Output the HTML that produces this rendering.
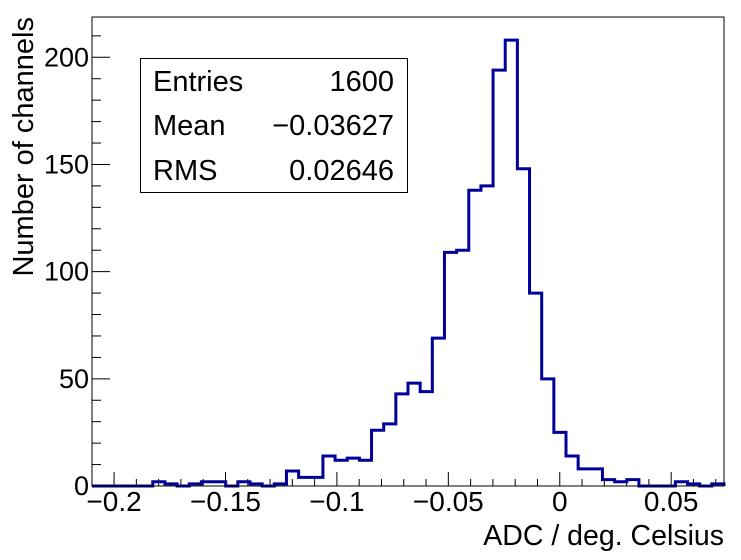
<!DOCTYPE html>
<html><head><meta charset="utf-8"><style>
html,body{margin:0;padding:0;background:#fff;}
svg{display:block;font-family:"Liberation Sans",sans-serif;}
</style></head><body>
<svg id="chart" width="741" height="560" viewBox="0 0 741 560" xmlns="http://www.w3.org/2000/svg">
<rect x="0" y="0" width="741" height="560" fill="#fff"/>
<g id="ticks"></g>
<path id="hist" fill="none" stroke="#000099" stroke-width="3"/>
<rect x="92" y="17" width="632" height="469" fill="none" stroke="#000" stroke-width="1"/>
<g>
<rect x="140.5" y="58.5" width="267" height="134" fill="#fff" stroke="#000" stroke-width="1"/>
<text x="153" y="91" font-size="29">Entries</text><text x="394" y="91" font-size="29" text-anchor="end">1600</text>
<text x="153" y="135" font-size="29">Mean</text><text x="394" y="135" font-size="29" text-anchor="end">−0.03627</text>
<text x="153" y="180" font-size="29">RMS</text><text x="394" y="180" font-size="29" text-anchor="end">0.02646</text>
</g>
<text x="724" y="545" font-size="28.5" text-anchor="end">ADC / deg. Celsius</text>
<text transform="translate(33,17) rotate(-90)" font-size="29" text-anchor="end">Number of channels</text>
</svg>
<script>
const counts=[0,0,0,0,0,2,1,0,1,2,2,0,2,1,0,1,7,4,4,14,12,13,12,26,29,43,48,44,69,109,110,138,140,194,208,148,90,50,25,14,8,8,3,2,3,0,0,0,2,1,0,1];
const xTickValues=[-0.2,-0.15,-0.1,-0.05,0,0.05];
const xTickLabels=["−0.2","−0.15","−0.1","−0.05","0","0.05"];
const yTickValues=[0,50,100,150,200];
const yTickLabels=["0","50","100","150","200"];
const xmin=-0.2099, xmax=0.0737, ymax=218.8;
const L=92,R=724,T=17,B=486;
const sx=v=>L+(v-xmin)/(xmax-xmin)*(R-L);
const sy=v=>B-v/ymax*(B-T);
const ns="http://www.w3.org/2000/svg";
const bw=(xmax-xmin)/counts.length;
let d="M"+L+","+B;
counts.forEach((c,i)=>{const x0=sx(xmin+i*bw),x1=sx(xmin+(i+1)*bw);d+=" L"+x0+","+sy(c)+" L"+x1+","+sy(c);});
d+=" L"+R+","+B;
document.getElementById('hist').setAttribute('d',d);
const g=document.getElementById('ticks');
function line(x1,y1,x2,y2,name){const l=document.createElementNS(ns,'line');l.setAttribute('x1',x1);l.setAttribute('y1',y1);l.setAttribute('x2',x2);l.setAttribute('y2',y2);l.setAttribute('stroke','#000');l.setAttribute('stroke-width','1');


g.appendChild(l);}
function text(x,y,s,anchor,name,fs){const t=document.createElementNS(ns,'text');t.setAttribute('x',x);t.setAttribute('y',y);t.setAttribute('font-size',fs);t.setAttribute('text-anchor',anchor);t.textContent=s;


g.appendChild(t);}
for(let k=-21;k<=7;k++){const v=k*0.01;const x=sx(v);if(x<L||x>R)continue;const major=Math.abs(k%5)===0;line(x,B,x,B-(major?14:7),major?'x-major-tick':'x-minor-tick');}
xTickValues.forEach((v,i)=>text(sx(v),511,xTickLabels[i],'middle','x-tick-label','28'));
for(let v=0;v<=ymax;v+=10){const y=sy(v);const major=v%50===0;line(L,y,L+(major?18:9),y,major?'y-major-tick':'y-minor-tick');}
yTickValues.forEach((v,i)=>text(89,sy(v)+9,yTickLabels[i],'end','y-tick-label','27'));
</script>
</body></html>
